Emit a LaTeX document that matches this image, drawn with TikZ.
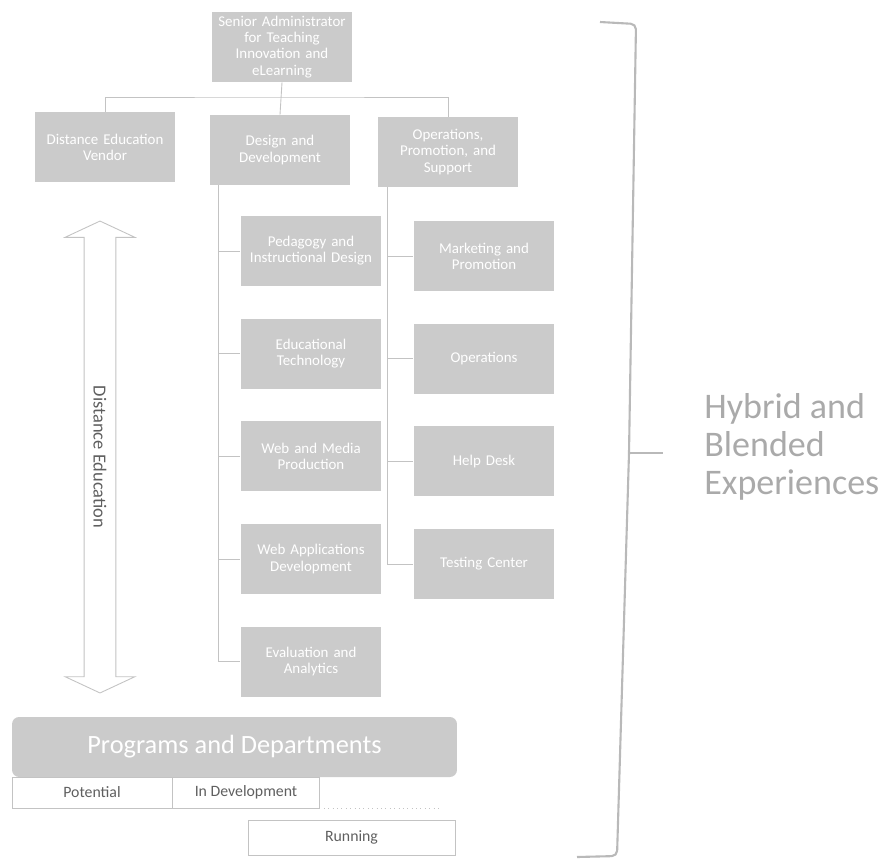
\documentclass[tikz,border=0pt]{standalone}
\usepackage{fontspec}
\setmainfont{Carlito}
\usepackage{xcolor}
\usepackage{tikz}
\usetikzlibrary{shapes,arrows,positioning,fit}

\definecolor{boxgray}{RGB}{203,203,203}
\definecolor{linkgray}{RGB}{195,195,195}
\definecolor{bracegray}{RGB}{185,185,185}
\definecolor{labelgray}{RGB}{95,95,95}
\definecolor{sidegray}{RGB}{170,170,170}

\begin{document}
\begin{tikzpicture}[
    x=0.02cm, y=-0.02cm,
    node distance=0.64cm,
    unit/.style={rectangle, fill=boxgray, text=white, minimum width=2.82cm, minimum height=1.4cm, text width=2.6cm, align=center, font=\fontsize{8.5}{9.2}\selectfont, inner sep=0pt},
    stage/.style={rectangle, draw=linkgray, line width=0.3pt, text=labelgray, minimum height=0.62cm, inner sep=0pt, font=\fontsize{9}{10}\selectfont},
    link/.style={draw=linkgray, line width=0.5pt}
]
    \useasboundingbox (0,0) rectangle (891,859);

    % top of the tree
    \node[unit] (senior) at (282,47) {Senior Administrator\\for Teaching\\Innovation and\\eLearning};
    \node[unit] (vendor) at (105,147) {Distance Education\\Vendor};
    \node[unit] (design) at (280,150) {Design and\\Development};
    \node[unit] (ops) at (448,152) {Operations,\\Promotion, and\\Support};

    % design and development units
    \node[unit] (pedagogy) at (311,251) {Pedagogy and\\Instructional Design};
    \node[unit, below=of pedagogy] (edtech) {Educational\\Technology};
    \node[unit, below=of edtech] (media) {Web and Media\\Production};
    \node[unit, below=of media] (webapps) {Web Applications\\Development};
    \node[unit, below=of webapps] (evaluation) {Evaluation and\\Analytics};

    % operations units
    \node[unit] (marketing) at (484,256) {Marketing and\\Promotion};
    \node[unit, below=of marketing] (operations) {Operations};
    \node[unit, below=of operations] (helpdesk) {Help Desk};
    \node[unit, below=of helpdesk] (testing) {Testing Center};

    % connectors
    \coordinate (bus) at (282,97);
    \draw[link] (senior.south) -- (design.north);
    \draw[link] (vendor.north) |- (bus) -| (ops.north);

    \coordinate (trunkL) at ([xshift=0.18cm]design.south west);
    \coordinate (trunkR) at ([xshift=0.2cm]ops.south west);
    \draw[link] (trunkL) |- (evaluation.west);
    \foreach \n in {pedagogy, edtech, media, webapps}
        \draw[link] (\n.west) -- (\n.west -| trunkL);
    \draw[link] (trunkR) |- (testing.west);
    \foreach \n in {marketing, operations, helpdesk}
        \draw[link] (\n.west) -- (\n.west -| trunkR);

    % distance education arrow
    \node[shape=double arrow, rotate=-90, draw=linkgray, fill=white, line width=0.5pt,
        minimum height=9.44cm, inner ysep=0.18cm, double arrow head extend=0.38cm,
        double arrow tip angle=130, text=labelgray, font=\fontsize{10.5}{11}\selectfont]
        (distance) at (100,457) {Distance Education};

    % programs and stages
    \node[rectangle, rounded corners=4pt, fill=boxgray, text=white, minimum width=8.9cm, minimum height=1.2cm,
        font=\fontsize{15}{16}\selectfont] (programs) at (234.5,747) {Programs and Departments};
    \draw[link, dotted] (12,808) -- (440,808);
    \node[stage, minimum width=3.2cm] (potential) at (92,792.5) {Potential};
    \node[stage, minimum width=2.94cm, right=0pt of potential] (indev) {In Development};
    \node[stage, minimum width=4.14cm, minimum height=0.7cm] (running) at (351.5,837.5) {Running};

    % brace on the right
    \coordinate (braceTop) at (600,22);
    \coordinate (braceMid) at (629,453);
    \coordinate (braceBot) at (577,857);
    \draw[draw=bracegray, line width=1.2pt, rounded corners=3pt]
        (braceTop) -- (636,24) -- (braceMid) -- (617,856) -- (braceBot);
    \draw[draw=bracegray, line width=1.2pt] (braceMid) -- ++(34,0) coordinate (braceTip);

    \node[anchor=west, inner sep=0pt, align=left, text=sidegray,
        font=\fontsize{20.5}{21.6}\selectfont] (hybrid) at (704,447) {Hybrid and\\Blended\\Experiences};
\end{tikzpicture}
\end{document}
